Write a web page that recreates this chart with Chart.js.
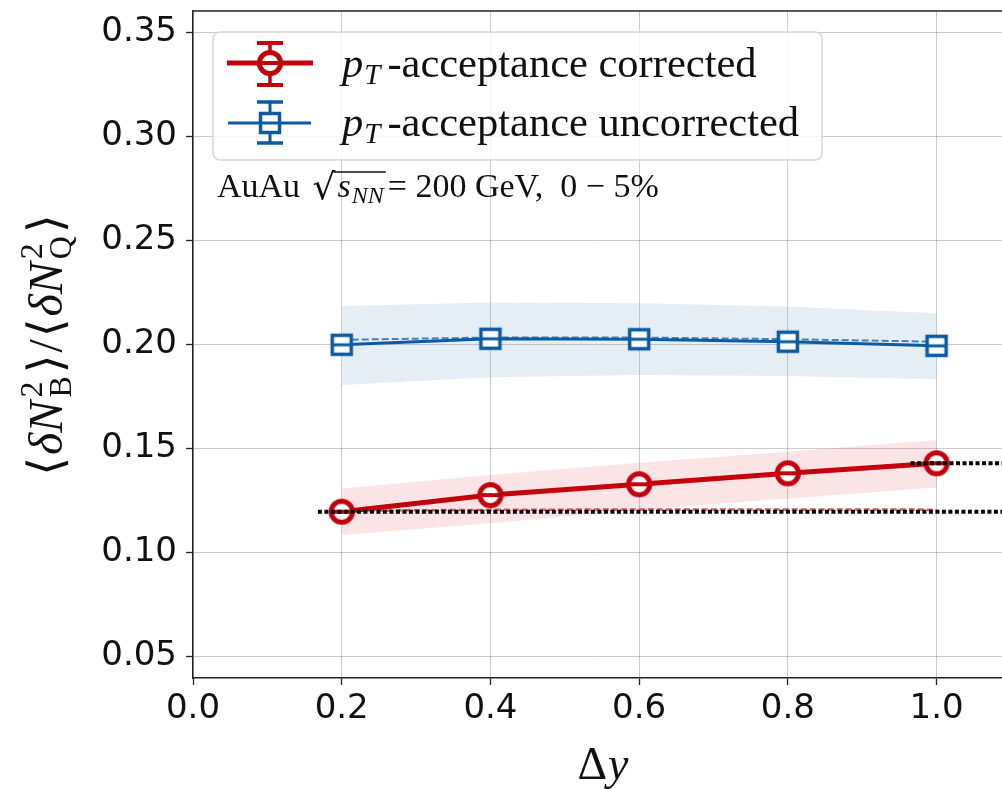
<!DOCTYPE html>
<html>
<head>
<meta charset="utf-8">
<script src="https://cdn.jsdelivr.net/npm/chart.js@4"></script>
<style>
  html, body { margin: 0; padding: 0; overflow: hidden; background: #fff; }
  #wrap { width: 1002px; height: 789px; position: relative; }
</style>
</head>
<body>
<div id="wrap"><canvas id="chart"></canvas></div>
<script>
// данные
const dy = [0.2, 0.4, 0.6, 0.8, 1.0];
const corrected = [0.1195, 0.1275, 0.1327, 0.1380, 0.1428];
const correctedLow = [0.1083, 0.1140, 0.1205, 0.1259, 0.1312];
const correctedHigh = [0.1307, 0.1372, 0.1431, 0.1484, 0.1540];
const correctedDashed = [0.1200, 0.1204, 0.1206, 0.1206, 0.1205];
const uncorrected = [0.1998, 0.2027, 0.2025, 0.2013, 0.1993];
const uncorrectedDashed = [0.2022, 0.2033, 0.2033, 0.2025, 0.2013];
const uncorrectedLow = [0.1805, 0.1842, 0.1853, 0.1848, 0.1832];
const uncorrectedHigh = [0.2185, 0.2201, 0.2198, 0.2182, 0.2150];
const refLowX = [0.168, 1.1];
const refLowY = [0.1195, 0.1195];
const refHighX = [0.965, 1.1];
const refHighY = [0.1428, 0.1428];
const xTicks = [0.0, 0.2, 0.4, 0.6, 0.8, 1.0];
const yTicks = [0.05, 0.10, 0.15, 0.20, 0.25, 0.30, 0.35];

const RED = '#c4000b';
const BLUE = '#0b5aa2';
const SERIF = "'Liberation Serif', 'DejaVu Serif', serif";

const pts = (xs, ys) => xs.map((x, i) => ({ x: x, y: ys[i] }));

// маркеры: открытый кружок / квадрат с "шапкой" ошибки внутри
function circleMarker(color) {
    const c = document.createElement('canvas');
    c.width = 30; c.height = 30;
    const g = c.getContext('2d');
    g.beginPath();
    g.arc(15, 15, 10.6, 0, Math.PI * 2);
    g.fillStyle = '#fff';
    g.fill();
    g.lineWidth = 5;
    g.strokeStyle = color;
    g.stroke();
    g.beginPath();
    g.moveTo(2, 15); g.lineTo(28, 15);
    g.lineWidth = 4;
    g.stroke();
    return c;
}
function squareMarker(color) {
    const c = document.createElement('canvas');
    c.width = 26; c.height = 26;
    const g = c.getContext('2d');
    g.fillStyle = '#fff';
    g.fillRect(3.5, 3.5, 19, 19);
    g.lineWidth = 3.5;
    g.strokeStyle = color;
    g.strokeRect(3.5, 3.5, 19, 19);
    g.beginPath();
    g.moveTo(2, 13); g.lineTo(24, 13);
    g.lineWidth = 3;
    g.stroke();
    return c;
}
const redMark = circleMarker(RED);
const blueMark = squareMarker(BLUE);

// рисует строку из кусков с разными шрифтами
function runs(ctx, x, y, parts) {
    let cx = x;
    parts.forEach(p => {
        ctx.font = p.font;
        let w = ctx.measureText(p.t).width;
        ctx.fillText(p.t, cx, y + (p.dy || 0));
        if (p.stack) {
            ctx.font = p.stack.font;
            ctx.fillText(p.stack.t, cx, y + p.stack.dy);
            w = Math.max(w, ctx.measureText(p.stack.t).width);
        }
        cx += w + (p.gap || 0);
    });
    return cx - x;
}
function runsWidth(ctx, parts) {
    let w = 0;
    parts.forEach(p => {
        ctx.font = p.font;
        let a = ctx.measureText(p.t).width;
        if (p.stack) {
            ctx.font = p.stack.font;
            a = Math.max(a, ctx.measureText(p.stack.t).width);
        }
        w += a + (p.gap || 0);
    });
    return w;
}

const decor = {
    id: 'decor',
    afterDraw(chart) {
        const ctx = chart.ctx;
        const a = chart.chartArea;
        ctx.save();
        // верхняя рамка
        ctx.strokeStyle = '#222';
        ctx.lineWidth = 1.5;
        ctx.beginPath();
        ctx.moveTo(a.left, a.top); ctx.lineTo(a.right, a.top);
        ctx.stroke();

        // легенда
        const bx = 213, by = 32, bw = 609, bh = 128, r = 7;
        ctx.beginPath();
        ctx.moveTo(bx + r, by);
        ctx.arcTo(bx + bw, by, bx + bw, by + bh, r);
        ctx.arcTo(bx + bw, by + bh, bx, by + bh, r);
        ctx.arcTo(bx, by + bh, bx, by, r);
        ctx.arcTo(bx, by, bx + bw, by, r);
        ctx.closePath();
        ctx.fillStyle = 'rgba(255,255,255,0.8)';
        ctx.fill();
        ctx.strokeStyle = '#d8d8d8';
        ctx.lineWidth = 1.5;
        ctx.stroke();

        // красный маркер в легенде
        ctx.strokeStyle = RED;
        ctx.lineWidth = 5;
        ctx.beginPath(); ctx.moveTo(227, 63); ctx.lineTo(313, 63); ctx.stroke();
        ctx.lineWidth = 3.5;
        ctx.beginPath(); ctx.moveTo(270, 43); ctx.lineTo(270, 85); ctx.stroke();
        ctx.lineWidth = 4;
        ctx.beginPath(); ctx.moveTo(257, 43); ctx.lineTo(283, 43); ctx.moveTo(257, 85); ctx.lineTo(283, 85); ctx.stroke();
        ctx.drawImage(redMark, 255, 48);
        // синий
        ctx.strokeStyle = BLUE;
        ctx.lineWidth = 3;
        ctx.beginPath(); ctx.moveTo(228, 123); ctx.lineTo(311, 123); ctx.stroke();
        ctx.beginPath(); ctx.moveTo(270, 102); ctx.lineTo(270, 143); ctx.stroke();
        ctx.lineWidth = 3.5;
        ctx.beginPath(); ctx.moveTo(257, 102); ctx.lineTo(283, 102); ctx.moveTo(257, 143); ctx.lineTo(283, 143); ctx.stroke();
        ctx.drawImage(blueMark, 257, 110);

        ctx.fillStyle = '#111';
        ctx.textBaseline = 'alphabetic';
        ctx.textAlign = 'left';
        const legFont = '42.5px ' + SERIF;
        const legIt = 'italic 42.5px ' + SERIF;
        const legSub = 'italic 29px ' + SERIF;
        runs(ctx, 342, 77, [
            { t: 'p', font: legIt, gap: 1 },
            { t: 'T', font: legSub, dy: 7, gap: 7 },
            { t: '-acceptance corrected', font: legFont }
        ]);
        runs(ctx, 342, 136, [
            { t: 'p', font: legIt, gap: 1 },
            { t: 'T', font: legSub, dy: 7, gap: 7 },
            { t: '-acceptance uncorrected', font: legFont }
        ]);

        // подпись AuAu
        const f = '34px ' + SERIF;
        const fi = 'italic 34px ' + SERIF;
        const fs = 'italic 24px ' + SERIF;
        let x = 217;
        const base = 197;
        x += runs(ctx, x, base, [{ t: 'AuAu ', font: f, gap: 4 }]);
        ctx.font = '36px DejaVu Sans';
        ctx.fillText('\u221A', x, base + 2);
        const sx = x + ctx.measureText('\u221A').width - 2;
        const sw = runs(ctx, sx + 4, base, [
            { t: 's', font: fi, gap: 1 },
            { t: 'NN', font: fs, dy: 6 }
        ]);
        ctx.strokeStyle = '#111';
        ctx.lineWidth = 1.6;
        ctx.beginPath(); ctx.moveTo(sx, 172); ctx.lineTo(sx + sw + 6, 172); ctx.stroke();
        x = sx + sw + 8;
        runs(ctx, x, base, [
            { t: '= 200 GeV,  0 \u2212 5%', font: f }
        ]);

        // подпись оси Y (повернута)
        const yf = '48px ' + SERIF;
        const yi = 'italic 48px ' + SERIF;
        const ys = '32px ' + SERIF;
        const br = '48px DejaVu Serif';
        const yParts = [
            { t: '\u27E8', font: br, gap: 2 },
            { t: '\u03B4N', font: yi, gap: 3 },
            { t: '2', font: ys, dy: -20, stack: { t: 'B', font: ys, dy: 9 }, gap: 3 },
            { t: '\u27E9', font: br, gap: 2 },
            { t: '/', font: yf, gap: 2 },
            { t: '\u27E8', font: br, gap: 2 },
            { t: '\u03B4N', font: yi, gap: 3 },
            { t: '2', font: ys, dy: -20, stack: { t: 'Q', font: ys, dy: 9 }, gap: 3 },
            { t: '\u27E9', font: br }
        ];
        ctx.save();
        ctx.translate(62, 345);
        ctx.rotate(-Math.PI / 2);
        const yw = runsWidth(ctx, yParts);
        runs(ctx, -yw / 2, 0, yParts);
        ctx.restore();

        // подпись оси X
        const xParts = [
            { t: '\u0394', font: '46px ' + SERIF, gap: 1 },
            { t: 'y', font: 'italic 46px ' + SERIF }
        ];
        const xw = runsWidth(ctx, xParts);
        runs(ctx, 603 - xw / 2, 779, xParts);
        ctx.restore();
    }
};

const ctx = document.getElementById('chart').getContext('2d');
new Chart(ctx, {
    type: 'line',
    data: {
        datasets: [
            { data: pts(refLowX, refLowY), borderColor: '#000', borderWidth: 4, borderDash: [4, 2.5], pointRadius: 0, fill: false },
            { data: pts(refHighX, refHighY), borderColor: '#000', borderWidth: 4, borderDash: [4, 2.5], pointRadius: 0, fill: false },
            { data: pts(dy, corrected), borderColor: RED, borderWidth: 5, pointStyle: redMark, pointRadius: 13, fill: false },
            { data: pts(dy, correctedDashed), borderColor: '#d85a5a', borderWidth: 2.5, borderDash: [6, 3], pointRadius: 0, fill: false },
            { data: pts(dy, uncorrected), borderColor: BLUE, borderWidth: 3, pointStyle: blueMark, pointRadius: 11, fill: false },
            { data: pts(dy, uncorrectedDashed), borderColor: '#4a80ba', borderWidth: 2, borderDash: [7, 3], pointRadius: 0, fill: false },
            { data: pts(dy, correctedHigh), borderWidth: 0, pointRadius: 0, fill: '+1', backgroundColor: 'rgba(220,50,60,0.13)' },
            { data: pts(dy, correctedLow), borderWidth: 0, pointRadius: 0, fill: false },
            { data: pts(dy, uncorrectedHigh), borderWidth: 0, pointRadius: 0, fill: '+1', backgroundColor: 'rgba(40,105,170,0.12)' },
            { data: pts(dy, uncorrectedLow), borderWidth: 0, pointRadius: 0, fill: false }
        ]
    },
    options: {
        responsive: true,
        maintainAspectRatio: false,
        animation: false,
        layout: { autoPadding: false, padding: { top: 11, left: 0, right: 0, bottom: 0 } },
        plugins: { legend: { display: false }, tooltip: { enabled: false } },
        elements: { line: { tension: 0 } },
        scales: {
            x: {
                type: 'linear',
                min: 0,
                max: 1.088,
                afterBuildTicks: s => { s.ticks = xTicks.map(v => ({ value: v })); },
                afterFit: s => { s.height = 111; s.paddingLeft = 0; s.paddingRight = 0; },
                ticks: {
                    color: '#111',
                    font: { family: 'DejaVu Sans', size: 34 },
                    padding: 4,
                    maxRotation: 0,
                    callback: v => v.toFixed(1)
                },
                grid: { color: 'rgba(0,0,0,0.2)', lineWidth: 1, tickColor: '#222', tickLength: 7, tickWidth: 1.3 },
                border: { color: '#222', width: 1.5 }
            },
            y: {
                type: 'linear',
                min: 0.0395,
                max: 0.3604,
                afterBuildTicks: s => { s.ticks = yTicks.map(v => ({ value: v })); },
                afterFit: s => { s.width = 193; s.paddingTop = 0; s.paddingBottom = 0; },
                ticks: {
                    color: '#111',
                    font: { family: 'DejaVu Sans', size: 34 },
                    padding: 9,
                    callback: v => v.toFixed(2)
                },
                grid: { color: 'rgba(0,0,0,0.2)', lineWidth: 1, tickColor: '#222', tickLength: 7, tickWidth: 1.3 },
                border: { color: '#222', width: 1.5 }
            }
        }
    },
    plugins: [decor]
});
</script>
</body>
</html>
